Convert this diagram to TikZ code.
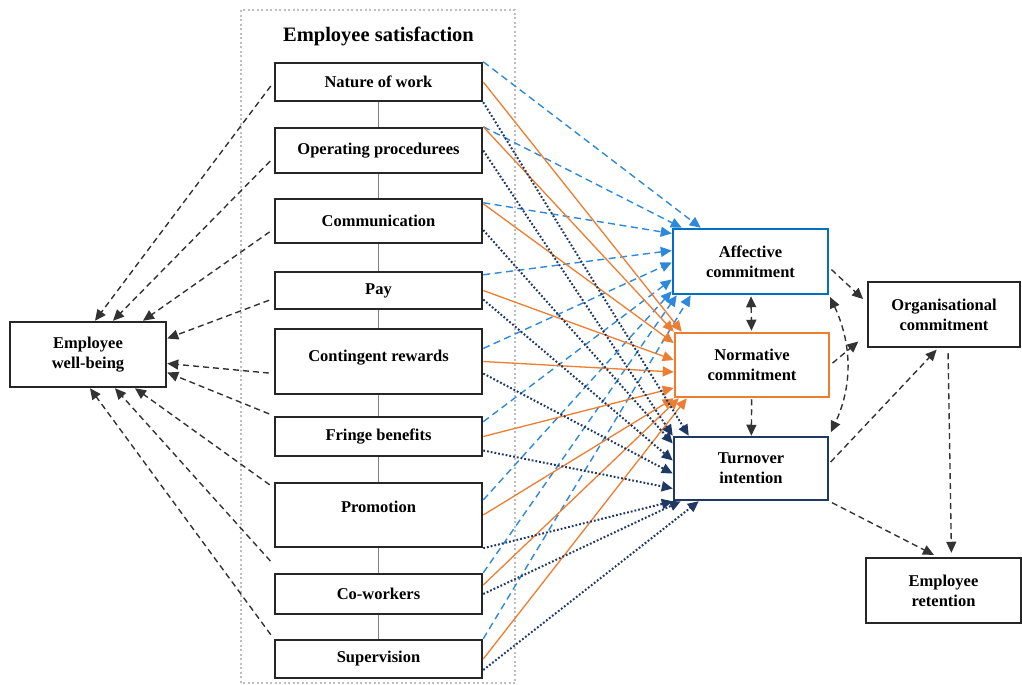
\documentclass[tikz,border=0pt]{standalone}
\usepackage{fontspec}
\setmainfont{Liberation Serif}
\usepackage{tikz}
\usetikzlibrary{arrows.meta}
\definecolor{affblue}{RGB}{0,112,192}
\definecolor{affline}{RGB}{46,137,218}
\definecolor{normorange}{RGB}{237,125,49}
\definecolor{turnnavy}{RGB}{32,56,100}
\definecolor{framegray}{RGB}{190,190,190}

\begin{document}
\begin{tikzpicture}[
  facet/.style={draw=black!85,line width=2.5bp,fill=white,minimum width=207bp,inner sep=0pt,
    font=\bfseries\fontsize{16.5bp}{18bp}\selectfont,align=center},
  outcome/.style={facet,minimum width=154bp,minimum height=65bp,
    font=\bfseries\fontsize{16.5bp}{20bp}\selectfont},
  tip/.style={-{Triangle[length=11bp,width=10bp]}},
  both/.style={{Triangle[length=11bp,width=10bp]}-{Triangle[length=11bp,width=10bp]}},
  wb/.style={tip,dash pattern=on 6bp off 4bp,line width=1.4bp,black!80,shorten <=5bp},
  aff/.style={tip,dash pattern=on 7bp off 4.5bp,line width=1.4bp,affline},
  nrm/.style={tip,line width=1.3bp,normorange},
  trn/.style={tip,dash pattern=on 1.8bp off 2bp,line width=2bp,turnnavy},
  blk/.style={tip,dash pattern=on 6bp off 4bp,line width=1.4bp,black!80},
  link/.style={draw=gray,line width=1bp}]
\useasboundingbox (0bp,0bp) rectangle (1022bp,-685bp);

% employee satisfaction block
\draw [framegray,line width=2bp,dash pattern=on 2bp off 2.5bp] (241bp,-10bp) rectangle (515bp,-683bp);
\node (title) at (378.5bp,-36bp) {\bfseries\fontsize{20.5bp}{22bp}\selectfont Employee satisfaction};

\node (nature) at (378.5bp,-82bp)[facet,minimum height=38bp] {Nature of work};
\node (ops) at (378.5bp,-150.5bp)[facet,minimum height=45bp] {Operating procedurees};
\node (comm) at (378.5bp,-221bp)[facet,minimum height=44bp] {Communication};
\node (pay) at (378.5bp,-290.5bp)[facet,minimum height=37bp] {Pay};
\node (cont) at (378.5bp,-361.5bp)[facet,minimum height=65bp,text depth=11bp] {Contingent rewards};
\node (fringe) at (378.5bp,-436.5bp)[facet,minimum height=39bp] {Fringe benefits};
\node (promo) at (378.5bp,-515bp)[facet,minimum height=64bp,text depth=17bp] {Promotion};
\node (cowork) at (378.5bp,-594bp)[facet,minimum height=40bp] {Co-workers};
\node (superv) at (378.5bp,-659bp)[facet,minimum height=38bp] {Supervision};

\foreach \a/\b in {nature/ops,ops/comm,comm/pay,pay/cont,cont/fringe,fringe/promo,promo/cowork,cowork/superv}
  \draw [link] (\a) -- (\b);

% outcomes
\node (wellbeing) at (88bp,-354.5bp)[outcome,minimum width=156bp] {Employee\\well-being};
\node (affect) at (750.5bp,-261.5bp)[outcome,draw=affblue,minimum width=155bp] {Affective\\commitment};
\node (norm) at (752bp,-365bp)[outcome,draw=normorange,minimum height=64bp] {Normative\\commitment};
\node (turn) at (751bp,-468.5bp)[outcome,draw=turnnavy,minimum height=63bp] {Turnover\\intention};
\node (orgc) at (944bp,-314.5bp)[outcome,minimum width=152bp] {Organisational\\commitment};
\node (retain) at (943.5bp,-590.5bp)[outcome,minimum width=155bp] {Employee\\retention};

% to well-being
\draw [wb] (nature.west) -- ([xshift=7bp]wellbeing.north);
\draw [wb] ([yshift=-7bp]ops.west) -- ([xshift=25bp]wellbeing.north);
\draw [wb] ([yshift=-8bp]comm.west) -- ([xshift=55bp]wellbeing.north);
\draw [wb] ([yshift=-8bp]pay.west) -- ([yshift=16bp]wellbeing.east);
\draw [wb] ([yshift=-12bp]cont.west) -- ([yshift=-9bp]wellbeing.east);
\draw [wb] (fringe.north west) -- ([yshift=-18bp]wellbeing.east);
\draw [wb] ([yshift=-6bp]promo.north west) -- ([xshift=47bp]wellbeing.south);
\draw [wb] ([yshift=8bp]cowork.north west) -- ([xshift=27bp]wellbeing.south);
\draw [wb] (superv.north west) -- ([xshift=2bp]wellbeing.south);

% to affective commitment
\draw [aff] (nature.north east) -- ([xshift=29bp]affect.north west);
\draw [aff] (ops.north east) -- ([xshift=10bp]affect.north west);
\draw [aff] ([yshift=-5bp]comm.north east) -- ([yshift=28bp]affect.west);
\draw [aff] ([yshift=-4bp]pay.north east) -- ([yshift=11bp]affect.west);
\draw [aff] ([yshift=13bp]cont.east) -- ([yshift=-1bp]affect.west);
\draw [aff] ([yshift=-6bp]fringe.north east) -- ([yshift=-18bp]affect.west);
\draw [aff] ([yshift=15bp]promo.east) -- ([yshift=4bp]affect.south west);
\draw [aff] (cowork.north east) -- ([xshift=5bp]affect.south west);
\draw [aff] (superv.north east) -- ([xshift=19bp]affect.south west);

% to normative commitment
\draw [nrm] (nature.east) -- ([xshift=8bp]norm.north west);
\draw [nrm] (ops.north east) -- (norm.north west);
\draw [nrm] ([yshift=-6bp]comm.north east) -- ([yshift=22bp]norm.west);
\draw [nrm] (pay.east) -- ([yshift=5bp]norm.west);
\draw [nrm] (cont.east) -- ([yshift=-7bp]norm.west);
\draw [nrm] (fringe.east) -- ([yshift=-23bp]norm.west);
\draw [nrm] (promo.east) -- (norm.south west);
\draw [nrm] ([yshift=9bp]cowork.east) -- ([xshift=5bp]norm.south west);
\draw [nrm] (superv.east) -- ([xshift=13bp]norm.south west);

% to turnover intention
\draw [trn] (nature.south east) -- ([xshift=16bp]turn.north west);
\draw [trn] (ops.east) -- (turn.north west);
\draw [trn] ([yshift=-9bp]comm.east) -- ([yshift=25bp]turn.west);
\draw [trn] ([yshift=-9bp]pay.east) -- ([yshift=8bp]turn.west);
\draw [trn] ([yshift=-12bp]cont.east) -- ([yshift=-5bp]turn.west);
\draw [trn] ([yshift=-14bp]fringe.east) -- ([yshift=-20bp]turn.west);
\draw [trn] (promo.south east) -- (turn.south west);
\draw [trn] (cowork.east) -- ([xshift=8bp]turn.south west);
\draw [trn] ([yshift=-11bp]superv.east) -- ([xshift=26bp]turn.south west);

% between the outcomes
\draw [blk,both,shorten <=1bp,shorten >=1bp] (affect) -- (norm);
\draw [blk,shorten <=1bp] (norm) -- (turn);
\draw [blk,both,shorten <=2bp,shorten >=4bp] (affect.south east) to[bend left=25] (turn.north east);
\draw [blk,shorten <=3bp,shorten >=5bp] ([yshift=-6bp]affect.east) -- ([yshift=12bp]orgc.west);
\draw [blk,shorten <=3bp,shorten >=11bp] (norm.east) -- ([yshift=-20bp]orgc.west);
\draw [blk,shorten <=2bp,shorten >=2bp] ([yshift=5bp]turn.east) -- ([xshift=-6bp]orgc.south);
\draw [blk,shorten <=5bp,shorten >=4bp] ([xshift=4bp]orgc.south) -- ([xshift=8bp]retain.north);
\draw [blk,shorten <=3bp,shorten >=4bp] (turn.south east) -- ([xshift=-6bp]retain.north);
\end{tikzpicture}
\end{document}
